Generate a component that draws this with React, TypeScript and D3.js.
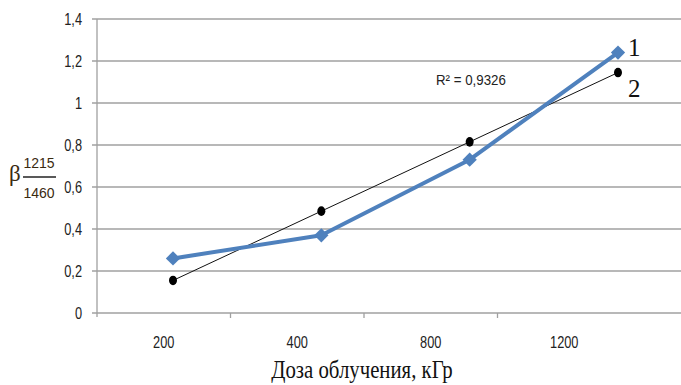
import React, { useEffect, useRef } from "react";
import * as d3 from "d3";

// doses (categories) and measured beta values
const doses = ["200", "400", "800", "1200"];
const series1 = [0.26, 0.37, 0.73, 1.24];
const series2 = [0.155, 0.485, 0.815, 1.145];
const yTicks = [0, 0.2, 0.4, 0.6, 0.8, 1, 1.2, 1.4];
const r2Label = "R² = 0,9326";
const xTitle = "Доза облучения, кГр";

const fmt = (v: number) => String(v).replace(".", ",");

export default function App() {
  const ref = useRef<SVGSVGElement | null>(null);

  useEffect(() => {
    if (!ref.current) return;
    const svg = d3.select(ref.current);
    svg.selectAll("*").remove();

    const W = 681;
    const left = 97;
    const top = 19;
    const bottom = 313;
    const sans = "'Liberation Sans', Arial, sans-serif";
    const serif = "'Liberation Serif', 'Times New Roman', serif";

    const y = d3.scaleLinear().domain([0, 1.4]).range([bottom, top]);
    // category bands for axis labels/ticks
    const xb = d3.scaleBand<string>().domain(doses).range([left, 631]);
    // positions of the markers
    const xp = d3.scalePoint<string>().domain(doses).range([173, 618]);

    // condensed text helper (narrow font look)
    const narrowText = (
      g: d3.Selection<any, any, any, any>,
      x: number,
      yy: number,
      txt: string,
      size: number,
      anchor: string,
      sx = 0.8
    ) =>
      g
        .append("text")
        .attr("transform", `translate(${x},${yy}) scale(${sx},1)`)
        .attr("dy", "0.36em")
        .attr("text-anchor", anchor)
        .attr("font-family", sans)
        .attr("font-size", size)
        .text(txt);

    // gridlines
    svg
      .append("g")
      .selectAll("line")
      .data(yTicks)
      .enter()
      .append("line")
      .attr("x1", left - 5)
      .attr("x2", W)
      .attr("y1", (d) => y(d))
      .attr("y2", (d) => y(d))
      .attr("stroke", "#a0a0a0")
      .attr("stroke-width", 1.3);

    // y axis line
    svg
      .append("line")
      .attr("x1", left)
      .attr("x2", left)
      .attr("y1", y(1.4))
      .attr("y2", bottom + 4)
      .attr("stroke", "#a0a0a0")
      .attr("stroke-width", 1.3);

    // y tick labels
    const yg = svg.append("g").attr("fill", "#222");
    yTicks.forEach((t) => narrowText(yg, 82, y(t), fmt(t), 16, "end"));

    // x ticks between categories
    svg
      .append("g")
      .selectAll("line")
      .data(doses.slice(1))
      .enter()
      .append("line")
      .attr("x1", (d) => xb(d)!)
      .attr("x2", (d) => xb(d)!)
      .attr("y1", bottom)
      .attr("y2", bottom + 5)
      .attr("stroke", "#a0a0a0")
      .attr("stroke-width", 1.3);

    // x tick labels
    const xg = svg.append("g").attr("fill", "#222");
    doses.forEach((d) =>
      narrowText(xg, xb(d)! + xb.bandwidth() / 2, 342, d, 16, "middle")
    );

    // series 2 (thin black line + dots)
    const line = d3
      .line<number>()
      .x((d, i) => xp(doses[i])!)
      .y((d) => y(d));
    svg
      .append("path")
      .datum(series2)
      .attr("d", line)
      .attr("fill", "none")
      .attr("stroke", "#111")
      .attr("stroke-width", 1);

    // series 1 (blue thick line + diamonds)
    svg
      .append("path")
      .datum(series1)
      .attr("d", line)
      .attr("fill", "none")
      .attr("stroke", "#4f81bd")
      .attr("stroke-width", 4)
      .attr("stroke-linejoin", "round");

    svg
      .append("g")
      .selectAll("path")
      .data(series1)
      .enter()
      .append("path")
      .attr("d", d3.symbol(d3.symbolDiamond2, 130)())
      .attr("transform", (d, i) => `translate(${xp(doses[i])},${y(d)})`)
      .attr("fill", "#4f81bd");

    svg
      .append("g")
      .selectAll("ellipse")
      .data(series2)
      .enter()
      .append("ellipse")
      .attr("cx", (d, i) => xp(doses[i])!)
      .attr("cy", (d) => y(d))
      .attr("rx", 4)
      .attr("ry", 4.8)
      .attr("fill", "#000");

    // series numbers
    const last = doses.length - 1;
    svg
      .append("text")
      .attr("x", xp(doses[last])! + 10)
      .attr("y", y(series1[last]) + 3)
      .attr("font-family", serif)
      .attr("font-size", 25)
      .attr("fill", "#111")
      .text("1");
    svg
      .append("text")
      .attr("x", xp(doses[last])! + 10)
      .attr("y", y(series2[last]) + 24)
      .attr("font-family", serif)
      .attr("font-size", 25)
      .attr("fill", "#111")
      .text("2");

    // R² label
    const rg = svg.append("g").attr("fill", "#222");
    narrowText(rg, 436, 80, r2Label, 14, "start", 0.95);

    // x axis title
    svg
      .append("text")
      .attr("transform", "translate(362,378) scale(0.8,1)")
      .attr("text-anchor", "middle")
      .attr("font-family", serif)
      .attr("font-size", 26)
      .attr("fill", "#111")
      .text(xTitle);

    // y axis label: beta with fraction 1215/1460
    const yl = svg.append("g").attr("fill", "#3a2a10");
    yl.append("text")
      .attr("x", 9)
      .attr("y", 181)
      .attr("font-family", serif)
      .attr("font-size", 23)
      .text("β");
    narrowText(yl, 39, 163, "1215", 14, "middle", 1);
    yl.append("line")
      .attr("x1", 23)
      .attr("x2", 56)
      .attr("y1", 177)
      .attr("y2", 177)
      .attr("stroke", "#222")
      .attr("stroke-width", 1.3);
    narrowText(yl, 39, 193, "1460", 14, "middle", 1);
  }, []);

  return (
    <svg
      ref={ref}
      width={681}
      height={385}
      style={{ position: "absolute", left: 0, top: 0, background: "#fff" }}
    />
  );
}
